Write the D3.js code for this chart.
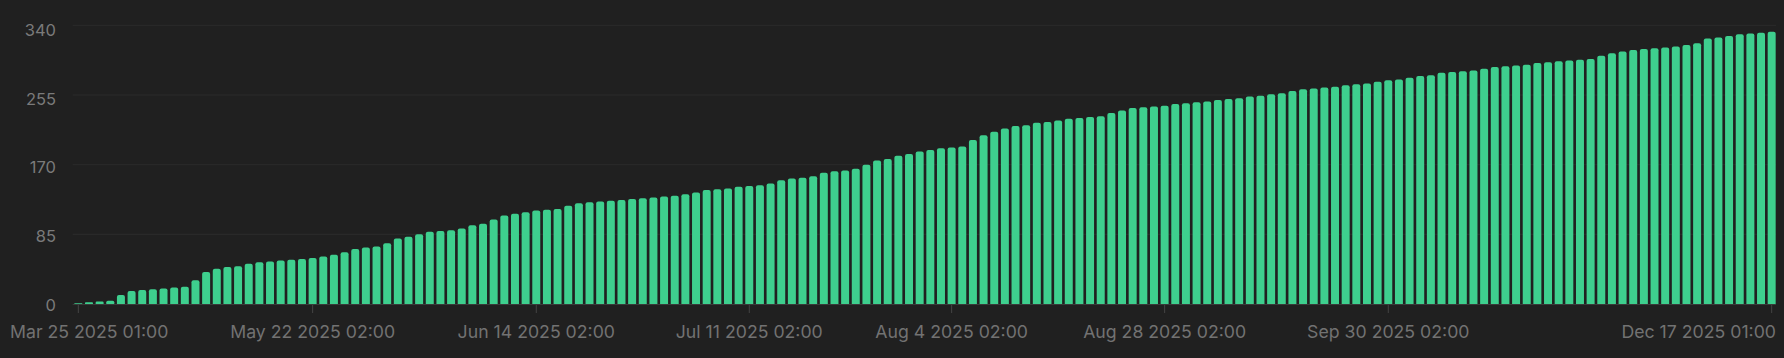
<!DOCTYPE html>
<html>
<head>
<meta charset="utf-8">
<script src="https://cdn.jsdelivr.net/npm/d3@7"></script>
<style>
  html, body { margin: 0; padding: 0; background: #202020; }
  svg { display: block; }
</style>
</head>
<body>
<svg id="chart" width="1784" height="358"></svg>
<script>
// ---- data ----
const values = [
  1,2,3,4,11,16,17,18,19,20,21,
  29,39,43,45,46,49,51,52,53,54,55,56,
  58,60,63,67,69,70,74,80,82,85,88,89,90,92,96,98,103,108,110,112,114,115,116,
  120,123,124,125,126,127,128,129,130,131,132,134,136,139,140,141,143,144,145,147,151,153,
  154,156,160,162,163,165,170,175,177,181,183,186,188,190,191,192,200,206,210,214,217,218,221,
  222,224,226,227,228,229,233,236,239,240,241,242,244,245,246,247,249,250,251,253,254,256,
  257,260,262,263,264,265,267,268,269,271,273,274,276,278,279,282,283,284,285,287,289,290,291,
  292,294,295,296,297,298,299,303,306,308,310,311,312,313,314,316,318,324,325,327,329,330,331,332
];
const categories = values.map((_, i) => i);
const tickIndices = [0, 22, 43, 63, 82, 102, 123, 159];
const tickLabels = [
  "Mar 25 2025 01:00", "May 22 2025 02:00", "Jun 14 2025 02:00", "Jul 11 2025 02:00",
  "Aug 4 2025 02:00", "Aug 28 2025 02:00", "Sep 30 2025 02:00", "Dec 17 2025 01:00"
];
const yTicks = [0, 85, 170, 255, 340];

// ---- layout ----
const W = 1784, H = 358;
const plotLeft = 73, plotRight = 1777, plotTop = 25.3, plotBottom = 304;
const svg = d3.select("#chart");

const x = d3.scaleBand().domain(categories).range([plotLeft, plotRight])
  .paddingInner(0.25).paddingOuter(0.125);
const y = d3.scaleLinear().domain([0, 340]).range([plotBottom, plotTop]);
const yLabel = d3.scaleLinear().domain([0, 340]).range([plotBottom + 1, plotTop + 4.7]);

// gridlines
svg.append("g").selectAll("line").data(yTicks.filter(d => d > 0)).join("line")
  .attr("x1", plotLeft - 0.3).attr("x2", 1776)
  .attr("y1", d => y(d)).attr("y2", d => y(d))
  .attr("stroke", "#2b2b2b").attr("stroke-width", 1);

// y labels
svg.append("g").selectAll("text").data(yTicks).join("text")
  .attr("x", 56).attr("y", d => yLabel(d))
  .attr("dy", "0.36em")
  .attr("text-anchor", "end")
  .attr("fill", "#7a7a7a")
  .style("font-family", "Inter, 'Noto Sans', sans-serif")
  .style("font-size", "16.5px")
  .text(d => d);

// bars with rounded tops
const r = 2;
svg.append("g").selectAll("path").data(values).join("path")
  .attr("fill", "#3ecf8e")
  .attr("d", (d, i) => {
    const x0 = x(i), w = x.bandwidth(), yt = y(d), yb = y(0);
    const rr = Math.min(r, (yb - yt) / 2, w / 2);
    return `M${x0},${yb}V${yt + rr}Q${x0},${yt} ${x0 + rr},${yt}H${x0 + w - rr}Q${x0 + w},${yt} ${x0 + w},${yt + rr}V${yb}Z`;
  });

// x axis
const xAxis = d3.axisBottom(x)
  .tickValues(tickIndices)
  .tickFormat((d) => tickLabels[tickIndices.indexOf(d)])
  .tickSize(9).tickPadding(12);
const gx = svg.append("g").attr("transform", `translate(0,${plotBottom})`).call(xAxis);
gx.select(".domain").attr("stroke", "#3a3a3a").attr("d", `M${plotLeft - 0.3},0.5H1776`);
gx.selectAll(".tick line").attr("stroke", "#444").attr("y1", 1);
gx.selectAll(".tick text")
  .attr("fill", "#727272")
  .style("font-family", "Inter, 'Noto Sans', sans-serif")
  .style("font-size", "17.7px");
// keep edge labels inside the chart
gx.selectAll(".tick").each(function(d) {
  const t = d3.select(this).select("text");
  const tx = x(d) + x.bandwidth() / 2;
  if (d === tickIndices[0]) t.attr("text-anchor", "start").attr("x", 10 - tx);
  if (d === tickIndices[tickIndices.length - 1]) t.attr("text-anchor", "end").attr("x", 1776 - tx);
});
</script>
</body>
</html>
